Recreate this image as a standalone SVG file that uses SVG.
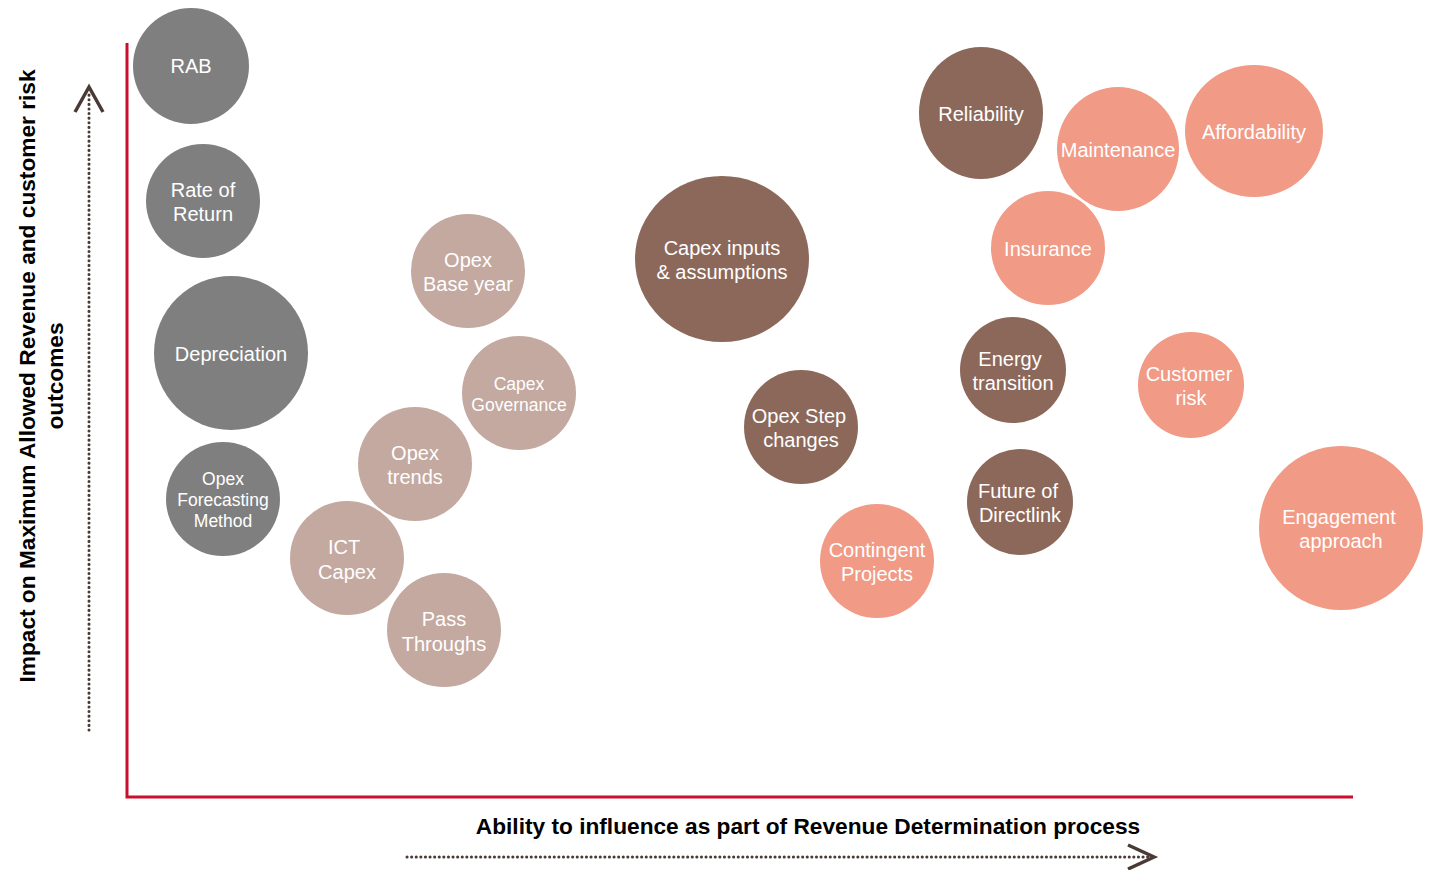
<svg xmlns="http://www.w3.org/2000/svg" width="1437" height="870" viewBox="0 0 1437 870">
<style>
.t{font-family:"Liberation Sans",Arial,sans-serif;fill:#fff;font-size:20px;text-anchor:middle}
.g{fill:#7f7f7f}.l{fill:#c4a9a1}.d{fill:#8c685a}.s{fill:#f19a85}
.ax{stroke:#c8102e;stroke-width:3;fill:none}
.dot{stroke:#4a3a35;stroke-width:3;stroke-dasharray:0.1 4.5;stroke-linecap:round;fill:none}
.chev{stroke:#4a3a35;stroke-width:3.5;fill:none}
.lab{font-family:"Liberation Sans",Arial,sans-serif;font-weight:bold;font-size:22.7px;fill:#000;text-anchor:middle}
</style>
<rect width="1437" height="870" fill="#fff"/>
<g id="axes">
<path class="ax" d="M127,43 V797 H1353"/>
</g>
<g id="connectors">
<path class="dot" d="M89,730 V92"/>
<path class="chev" d="M75,112 L89,87 L103,112"/>
<path class="dot" d="M407,857 H1150"/>
<path class="chev" d="M1128,845 L1154,857 L1128,869"/>
</g>
<g id="labels">
<text class="lab" transform="translate(35,376) rotate(-90)">Impact on Maximum Allowed Revenue and customer risk</text>
<text class="lab" transform="translate(63,376) rotate(-90)">outcomes</text>
<text class="lab" x="808" y="834">Ability to influence as part of Revenue Determination process</text>
</g>
<g id="rab"><circle class="g" cx="191" cy="66" r="58"/><text class="t" x="191" y="73">RAB</text></g>
<g id="rate-of-return"><circle class="g" cx="203" cy="201" r="57"/><text class="t" x="203" y="197">Rate of</text><text class="t" x="203" y="221">Return</text></g>
<g id="depreciation"><circle class="g" cx="231" cy="353" r="77"/><text class="t" x="231" y="361">Depreciation</text></g>
<g id="opex-forecasting"><circle class="g" cx="223" cy="499" r="57"/><text class="t" style="font-size:17.5px" x="223" y="485">Opex</text><text class="t" style="font-size:17.5px" x="223" y="506">Forecasting</text><text class="t" style="font-size:17.5px" x="223" y="527">Method</text></g>
<g id="opex-base-year"><circle class="l" cx="468" cy="271" r="57"/><text class="t" x="468" y="267">Opex</text><text class="t" x="468" y="291">Base year</text></g>
<g id="capex-governance"><circle class="l" cx="519" cy="393" r="57"/><text class="t" style="font-size:17.5px" x="519" y="390">Capex</text><text class="t" style="font-size:17.5px" x="519" y="411">Governance</text></g>
<g id="opex-trends"><circle class="l" cx="415" cy="464" r="57"/><text class="t" x="415" y="460">Opex</text><text class="t" x="415" y="484">trends</text></g>
<g id="ict-capex"><circle class="l" cx="347" cy="558" r="57"/><text class="t" x="344" y="554">ICT</text><text class="t" x="347" y="579">Capex</text></g>
<g id="pass-throughs"><circle class="l" cx="444" cy="630" r="57"/><text class="t" x="444" y="626">Pass</text><text class="t" x="444" y="651">Throughs</text></g>
<g id="capex-inputs"><ellipse class="d" cx="722" cy="259" rx="87" ry="83"/><text class="t" x="722" y="255">Capex inputs</text><text class="t" x="722" y="279">&amp; assumptions</text></g>
<g id="opex-step"><circle class="d" cx="801" cy="427" r="57"/><text class="t" x="799" y="423">Opex Step</text><text class="t" x="801" y="447">changes</text></g>
<g id="contingent"><circle class="s" cx="877" cy="561" r="57"/><text class="t" x="877" y="557">Contingent</text><text class="t" x="877" y="581">Projects</text></g>
<g id="reliability"><ellipse class="d" cx="981" cy="113" rx="62" ry="66"/><text class="t" x="981" y="121">Reliability</text></g>
<g id="maintenance"><ellipse class="s" cx="1118" cy="149" rx="61" ry="62"/><text class="t" x="1118" y="157">Maintenance</text></g>
<g id="affordability"><ellipse class="s" cx="1254" cy="131" rx="69" ry="66"/><text class="t" x="1254" y="139">Affordability</text></g>
<g id="insurance"><circle class="s" cx="1048" cy="248" r="57"/><text class="t" x="1048" y="256">Insurance</text></g>
<g id="energy-transition"><circle class="d" cx="1013" cy="370" r="53"/><text class="t" x="1010" y="366">Energy</text><text class="t" x="1013" y="390">transition</text></g>
<g id="customer-risk"><circle class="s" cx="1191" cy="385" r="53"/><text class="t" x="1189" y="381">Customer</text><text class="t" x="1191" y="405">risk</text></g>
<g id="future-directlink"><circle class="d" cx="1020" cy="502" r="53"/><text class="t" x="1018" y="498">Future of</text><text class="t" x="1020" y="522">Directlink</text></g>
<g id="engagement"><circle class="s" cx="1341" cy="528" r="82"/><text class="t" x="1339" y="524">Engagement</text><text class="t" x="1341" y="548">approach</text></g>
</svg>
